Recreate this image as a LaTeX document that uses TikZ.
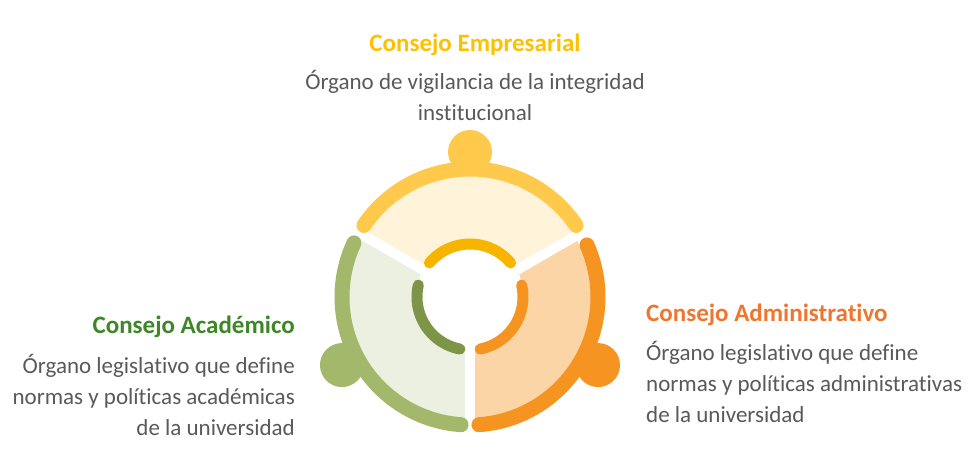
\documentclass[tikz,border=0pt]{standalone}
\usepackage{fontspec}
\setmainfont{Carlito}[Ligatures=NoCommon]
\definecolor{goldline}{RGB}{255,201,76}
\definecolor{goldin}{RGB}{247,181,0}
\definecolor{goldfill}{RGB}{255,243,217}
\definecolor{goldtext}{RGB}{255,192,0}
\definecolor{greenline}{RGB}{163,184,106}
\definecolor{greenin}{RGB}{126,148,71}
\definecolor{greenfill}{RGB}{236,240,225}
\definecolor{greentext}{RGB}{61,135,39}
\definecolor{orangeline}{RGB}{246,148,34}
\definecolor{orangefill}{RGB}{252,213,166}
\definecolor{orangetext}{RGB}{240,118,48}
\definecolor{bodygray}{RGB}{89,89,89}
\begin{document}
\begin{tikzpicture}
  [x=1pt,y=1pt,
   title/.style={font=\fontsize{25}{31}\selectfont\bfseries,inner sep=0pt,anchor=base},
   desc/.style={font=\fontsize{23}{31}\selectfont,text=bodygray,inner sep=0pt,anchor=base},
   head/.style={circle,minimum size=44pt,inner sep=0pt}]
\useasboundingbox (-470,-172) rectangle (510,297);

% pale sectors
\fill[goldfill] (30:54) arc[start angle=30,end angle=150,radius=54]
  -- (150:121) arc[start angle=150,end angle=30,radius=121] -- cycle;
\fill[greenfill] (150:54) arc[start angle=150,end angle=270,radius=54]
  -- (270:121) arc[start angle=270,end angle=150,radius=121] -- cycle;
\fill[orangefill] (270:54) arc[start angle=270,end angle=390,radius=54]
  -- (390:121) arc[start angle=390,end angle=270,radius=121] -- cycle;
\path[line width=10pt, white]
  (0,0) edge (30:126)
  (0,0) edge (150:126)
  (0,0) edge (270:126);

% outer rims
\draw[line width=15pt, line cap=round, goldline]
  (34:128) arc[start angle=34,end angle=146,radius=128];
\draw[line width=15pt, line cap=round, greenline]
  (155:128) arc[start angle=155,end angle=266,radius=128];
\draw[line width=15pt, line cap=round, orangeline]
  (274:128) arc[start angle=274,end angle=384,radius=128];

% inner rims
\draw[line width=11pt, line cap=round, goldin]
  (40:53) arc[start angle=40,end angle=140,radius=53];
\draw[line width=11pt, line cap=round, greenin]
  (167:53) arc[start angle=167,end angle=259,radius=53];
\draw[line width=11pt, line cap=round, orangeline]
  (281:53) arc[start angle=281,end angle=373,radius=53];

\node (h1)[head, fill=goldline] at (90:145) {};
\node (h2)[head, fill=greenline] at (208:145) {};
\node (h3)[head, fill=orangeline] at (332:145) {};

% texts, base = last line
\node (t1)[title, text=goldtext] at (5,245) {Consejo Empresarial};
\node (d1)[desc, align=center] at (5,176)
  {Órgano de vigilancia de la integridad\\institucional};
\node (t2)[title, text=greentext, anchor=base east] at (-175,-36) {Consejo Académico};
\node (d2)[desc, align=right, anchor=base east] at (-175,-138)
  {Órgano legislativo que define\\normas y políticas académicas\\de la universidad};
\node (t3)[title, text=orangetext, anchor=base west] at (176,-24) {Consejo Administrativo};
\node (d3)[desc, align=left, anchor=base west] at (176,-125)
  {Órgano legislativo que define\\normas y políticas administrativas\\de la universidad};
\end{tikzpicture}
\end{document}
